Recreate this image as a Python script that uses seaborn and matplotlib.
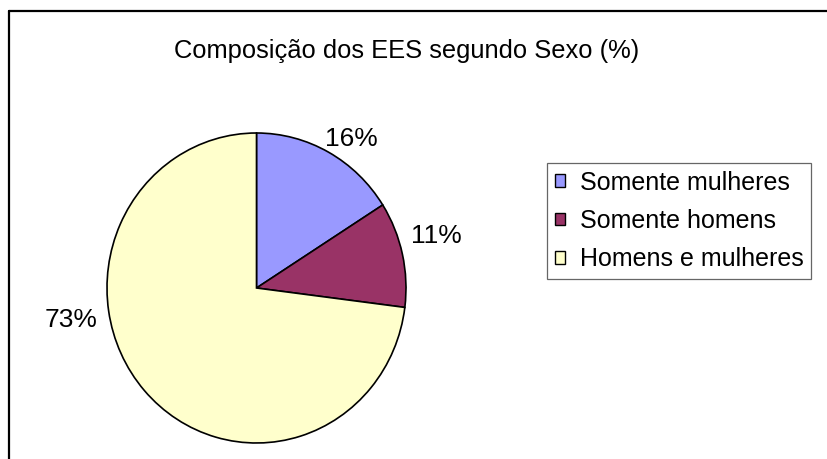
"""Pie chart: composição dos EES segundo sexo."""

import matplotlib

matplotlib.use("Agg")

import matplotlib.pyplot as plt
import seaborn as sns
from matplotlib.lines import Line2D

# data
categories = ["Somente mulheres", "Somente homens", "Homens e mulheres"]
shares = [16, 11, 73]
pct_labels = ["16%", "11%", "73%"]
slice_colors = ["#9999FF", "#993366", "#FFFFCC"]

TITLE = "Composição dos EES segundo Sexo (%)"

W, H = 827, 459

sns.set_theme(style="white")
plt.rcParams["font.family"] = ["Liberation Sans", "DejaVu Sans"]
plt.rcParams["text.color"] = "black"

fig = plt.figure(figsize=(W / 100, H / 100), dpi=100)
fig.patch.set_facecolor("white")


def px_box(left, top, right, bottom):
    return [left / W, 1 - bottom / H, (right - left) / W, (bottom - top) / H]


# pie sits in an auto-aspect axes so the slight vertical stretch is kept
ax = fig.add_axes(px_box(107, 133, 406, 443))
wedges, texts = ax.pie(
    shares,
    labels=pct_labels,
    colors=slice_colors,
    startangle=90,
    counterclock=False,
    wedgeprops={"edgecolor": "black", "linewidth": 1.2},
    textprops={"fontsize": 19, "color": "black"},
    radius=1.0,
)
ax.set_aspect("auto")
ax.set_xlim(-1.0, 1.0)
ax.set_ylim(-1.0, 1.0)
ax.axis("off")

# Excel-style label placement (pixel centres)
label_px = [(351.5, 139), (436, 236), (71, 320)]
cx, cy, rx, ry = 256.5, 288, 149.5, 155
for txt, (lx, ly) in zip(texts, label_px):
    txt.set_position(((lx - cx) / rx, (cy - ly) / ry))
    txt.set_ha("center")
    txt.set_va("center")

fig.text(407 / W, 1 - 51 / H, TITLE, ha="center", va="center", fontsize=18.4, color="black")

leg = fig.legend(
    wedges,
    categories,
    loc="upper left",
    bbox_to_anchor=(547 / W, 1 - 163 / H),
    bbox_transform=fig.transFigure,
    fontsize=18,
    frameon=True,
    fancybox=False,
    shadow=False,
    handlelength=0.4,
    handleheight=0.4,
    handletextpad=0.6,
    labelspacing=0.58,
    borderpad=0.3,
    borderaxespad=0,
)
leg.get_frame().set_edgecolor("#404040")
leg.get_frame().set_linewidth(0.9)
for h in leg.legend_handles:
    h.set_linewidth(1.0)
for t in leg.get_texts():
    t.set_color("black")

# chart area border: only the top and left edges show in the crop
fig.add_artist(Line2D([8.5 / W, 1], [1 - 11 / H, 1 - 11 / H], color="black", lw=1.6, transform=fig.transFigure))
fig.add_artist(Line2D([8.5 / W, 8.5 / W], [0, 1 - 11 / H], color="black", lw=1.6, transform=fig.transFigure))

fig.savefig("out.png", dpi=100)
